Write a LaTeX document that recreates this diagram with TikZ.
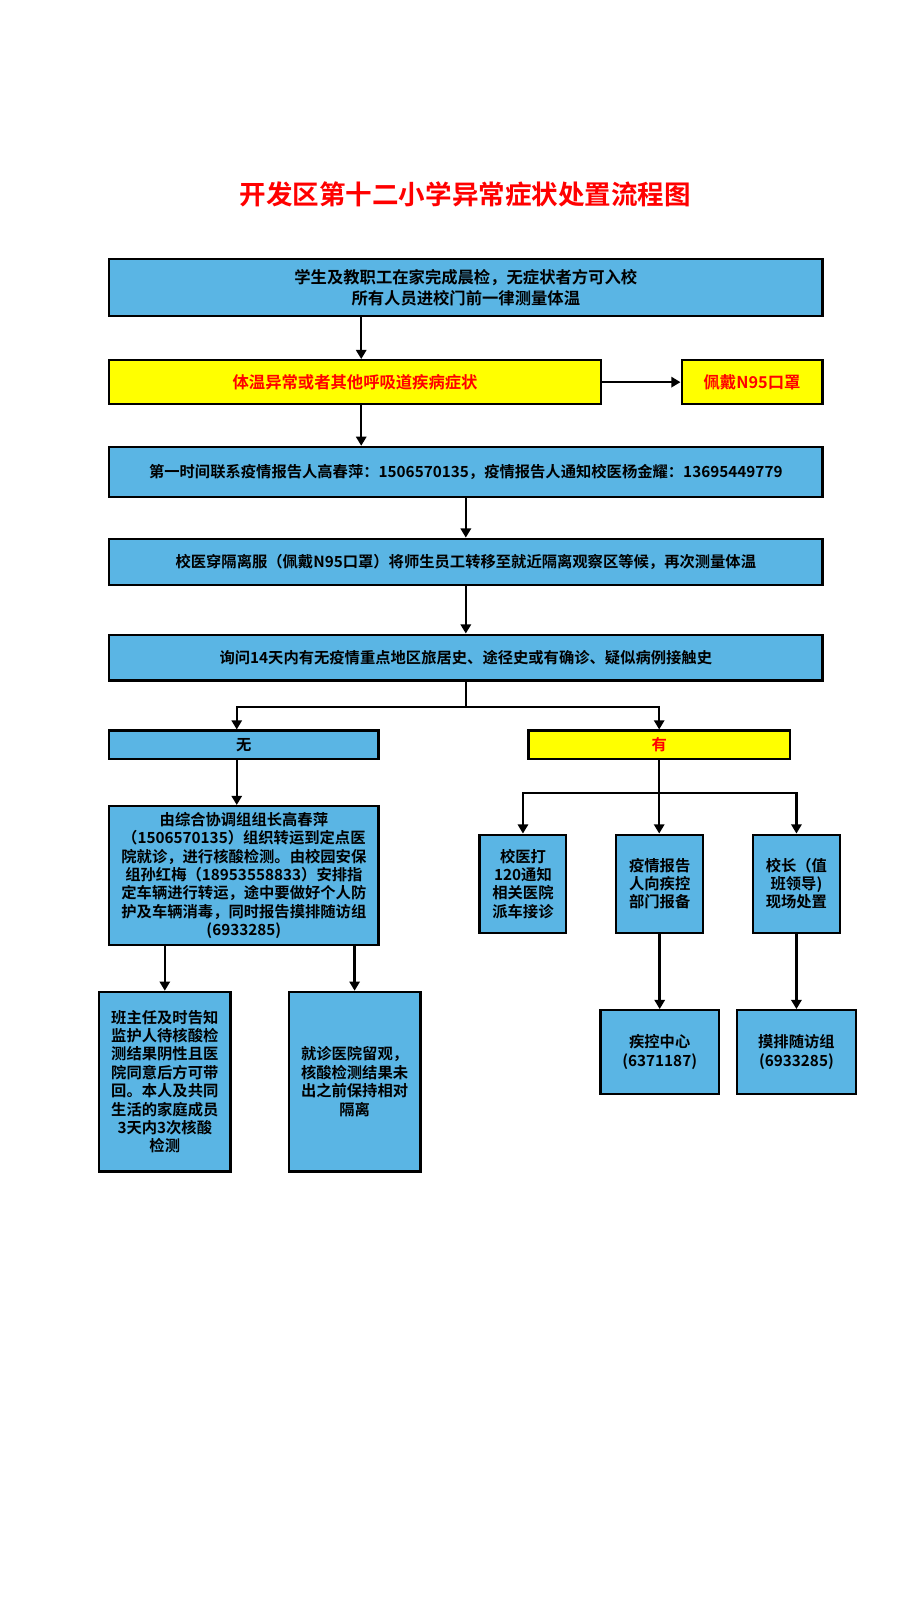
\documentclass[tikz,border=0pt]{standalone}
\usepackage{fontspec}
\setmainfont{Noto Sans CJK SC}[BoldFont={Noto Sans CJK SC Bold}]
\usepackage{tikz}
\usetikzlibrary{arrows.meta,positioning,calc}
\definecolor{boxblue}{RGB}{90,181,228}
\definecolor{alertred}{RGB}{255,0,0}
\definecolor{warnyellow}{RGB}{255,255,0}
\tikzset{
  box/.style={draw=black,line width=2.2pt,fill=boxblue,align=center,inner sep=0pt,
    font=\bfseries\fontsize{15}{18}\selectfont},
  warn/.style={box,fill=warnyellow,text=alertred},
  bigtext/.style={font=\bfseries\fontsize{16}{21}\selectfont},
  heading/.style={text=alertred,font=\bfseries\fontsize{26}{30}\selectfont},
  link/.style={line width=2.4pt}
}
\tikzstyle{arrow} = [line width=2.4pt,-{Triangle[length=9pt,width=10pt]}]

\begin{document}
\begin{tikzpicture}[x=1pt,y=-1pt]
  \useasboundingbox (0,0) rectangle (882,1568);
  \node[heading] (title) at (456,190) {开发区第十二小学异常症状处置流程图};

  % main column
  \node[box,bigtext,minimum width=699pt,minimum height=56pt] (check) at (456.5,282)
    {学生及教职工在家完成晨检，无症状者方可入校\\所有人员进校门前一律测量体温};
  \node[warn,bigtext,minimum width=482pt,minimum height=43pt] (fever) at (348,374.5)
    {体温异常或者其他呼吸道疾病症状};
  \node[warn,bigtext,minimum width=138pt,minimum height=43pt] (mask) at (737,374.5)
    {佩戴N95口罩};
  \node[box,minimum width=699pt,minimum height=49pt] (report) at (456.5,462.5)
    {第一时间联系疫情报告人高春萍：1506570135，疫情报告人通知校医杨金耀：13695449779};
  \node[box,minimum width=699pt,minimum height=45pt] (isolate) at (456.5,550.5)
    {校医穿隔离服（佩戴N95口罩）将师生员工转移至就近隔离观察区等候，再次测量体温};
  \node[box,minimum width=699pt,minimum height=45pt] (ask) at (456.5,644.5)
    {询问14天内有无疫情重点地区旅居史、途径史或有确诊、疑似病例接触史};

  % branches
  \node[box,minimum width=264pt,minimum height=28pt] (no) at (239,730) {无};
  \node[warn,minimum width=256pt,minimum height=28pt] (yes) at (646,730) {有};

  % left branch
  \node[box,minimum width=264pt,minimum height=136pt] (transfer) at (239,858)
    {由综合协调组组长高春萍\\（1506570135）组织转运到定点医\\院就诊，进行核酸检测。由校园安保\\组孙红梅（18953558833）安排指\\定车辆进行转运，途中要做好个人防\\护及车辆消毒，同时报告摸排随访组\\(6933285)};
  \node[box,minimum width=129pt,minimum height=176pt] (home) at (161.5,1060)
    {班主任及时告知\\监护人待核酸检\\测结果阴性且医\\院同意后方可带\\回。本人及共同\\生活的家庭成员\\3天内3次核酸\\检测};
  \node[box,minimum width=129pt,minimum height=176pt] (hospital) at (347.5,1060)
    {就诊医院留观，\\核酸检测结果未\\出之前保持相对\\隔离};

  % right branch
  \node[box,minimum width=85pt,minimum height=96pt] (ambulance) at (512.5,866)
    {校医打\\120通知\\相关医院\\派车接诊};
  \node[box,minimum width=85pt,minimum height=96pt] (notify) at (646.5,866)
    {疫情报告\\人向疾控\\部门报备};
  \node[box,minimum width=85pt,minimum height=96pt] (head) at (780.5,866)
    {校长（值\\班领导)\\现场处置};
  \node[box,minimum width=116pt,minimum height=82pt] (cdc) at (646.5,1031)
    {疾控中心\\(6371187)};
  \node[box,minimum width=116pt,minimum height=82pt] (visit) at (780.5,1031)
    {摸排随访组\\(6933285)};

  % connectors
  \draw[arrow] ([xshift=6pt]fever.north |- check.south) -- ([xshift=6pt]fever.north);
  \draw[arrow] (fever) -- (mask);
  \draw[arrow] ([xshift=6pt]fever.south) -- ([xshift=6pt]fever.south |- report.north);
  \draw[arrow] (report) -- (isolate);
  \draw[arrow] (isolate) -- (ask);
  \draw[link] (ask.south) -- ++(0,25) coordinate (split);
  \draw[arrow] (split) -| ([xshift=-7pt]no.north);
  \draw[arrow] (split) -| (yes.north);
  \draw[arrow] ([xshift=-7pt]no.south) -- ([xshift=-7pt]no.south |- transfer.north);
  \draw[arrow] (home.north |- transfer.south) -- (home.north);
  \draw[arrow] (hospital.north |- transfer.south) -- (hospital.north);
  \draw[arrow] (yes.south) -- (yes.south |- notify.north);
  \path (yes.south) ++(0,32) coordinate (fork);
  \draw[arrow] (fork) -| (ambulance.north);
  \draw[arrow] (fork) -| (head.north);
  \draw[arrow] (notify) -- (cdc);
  \draw[arrow] (head) -- (visit);
\end{tikzpicture}
\end{document}
